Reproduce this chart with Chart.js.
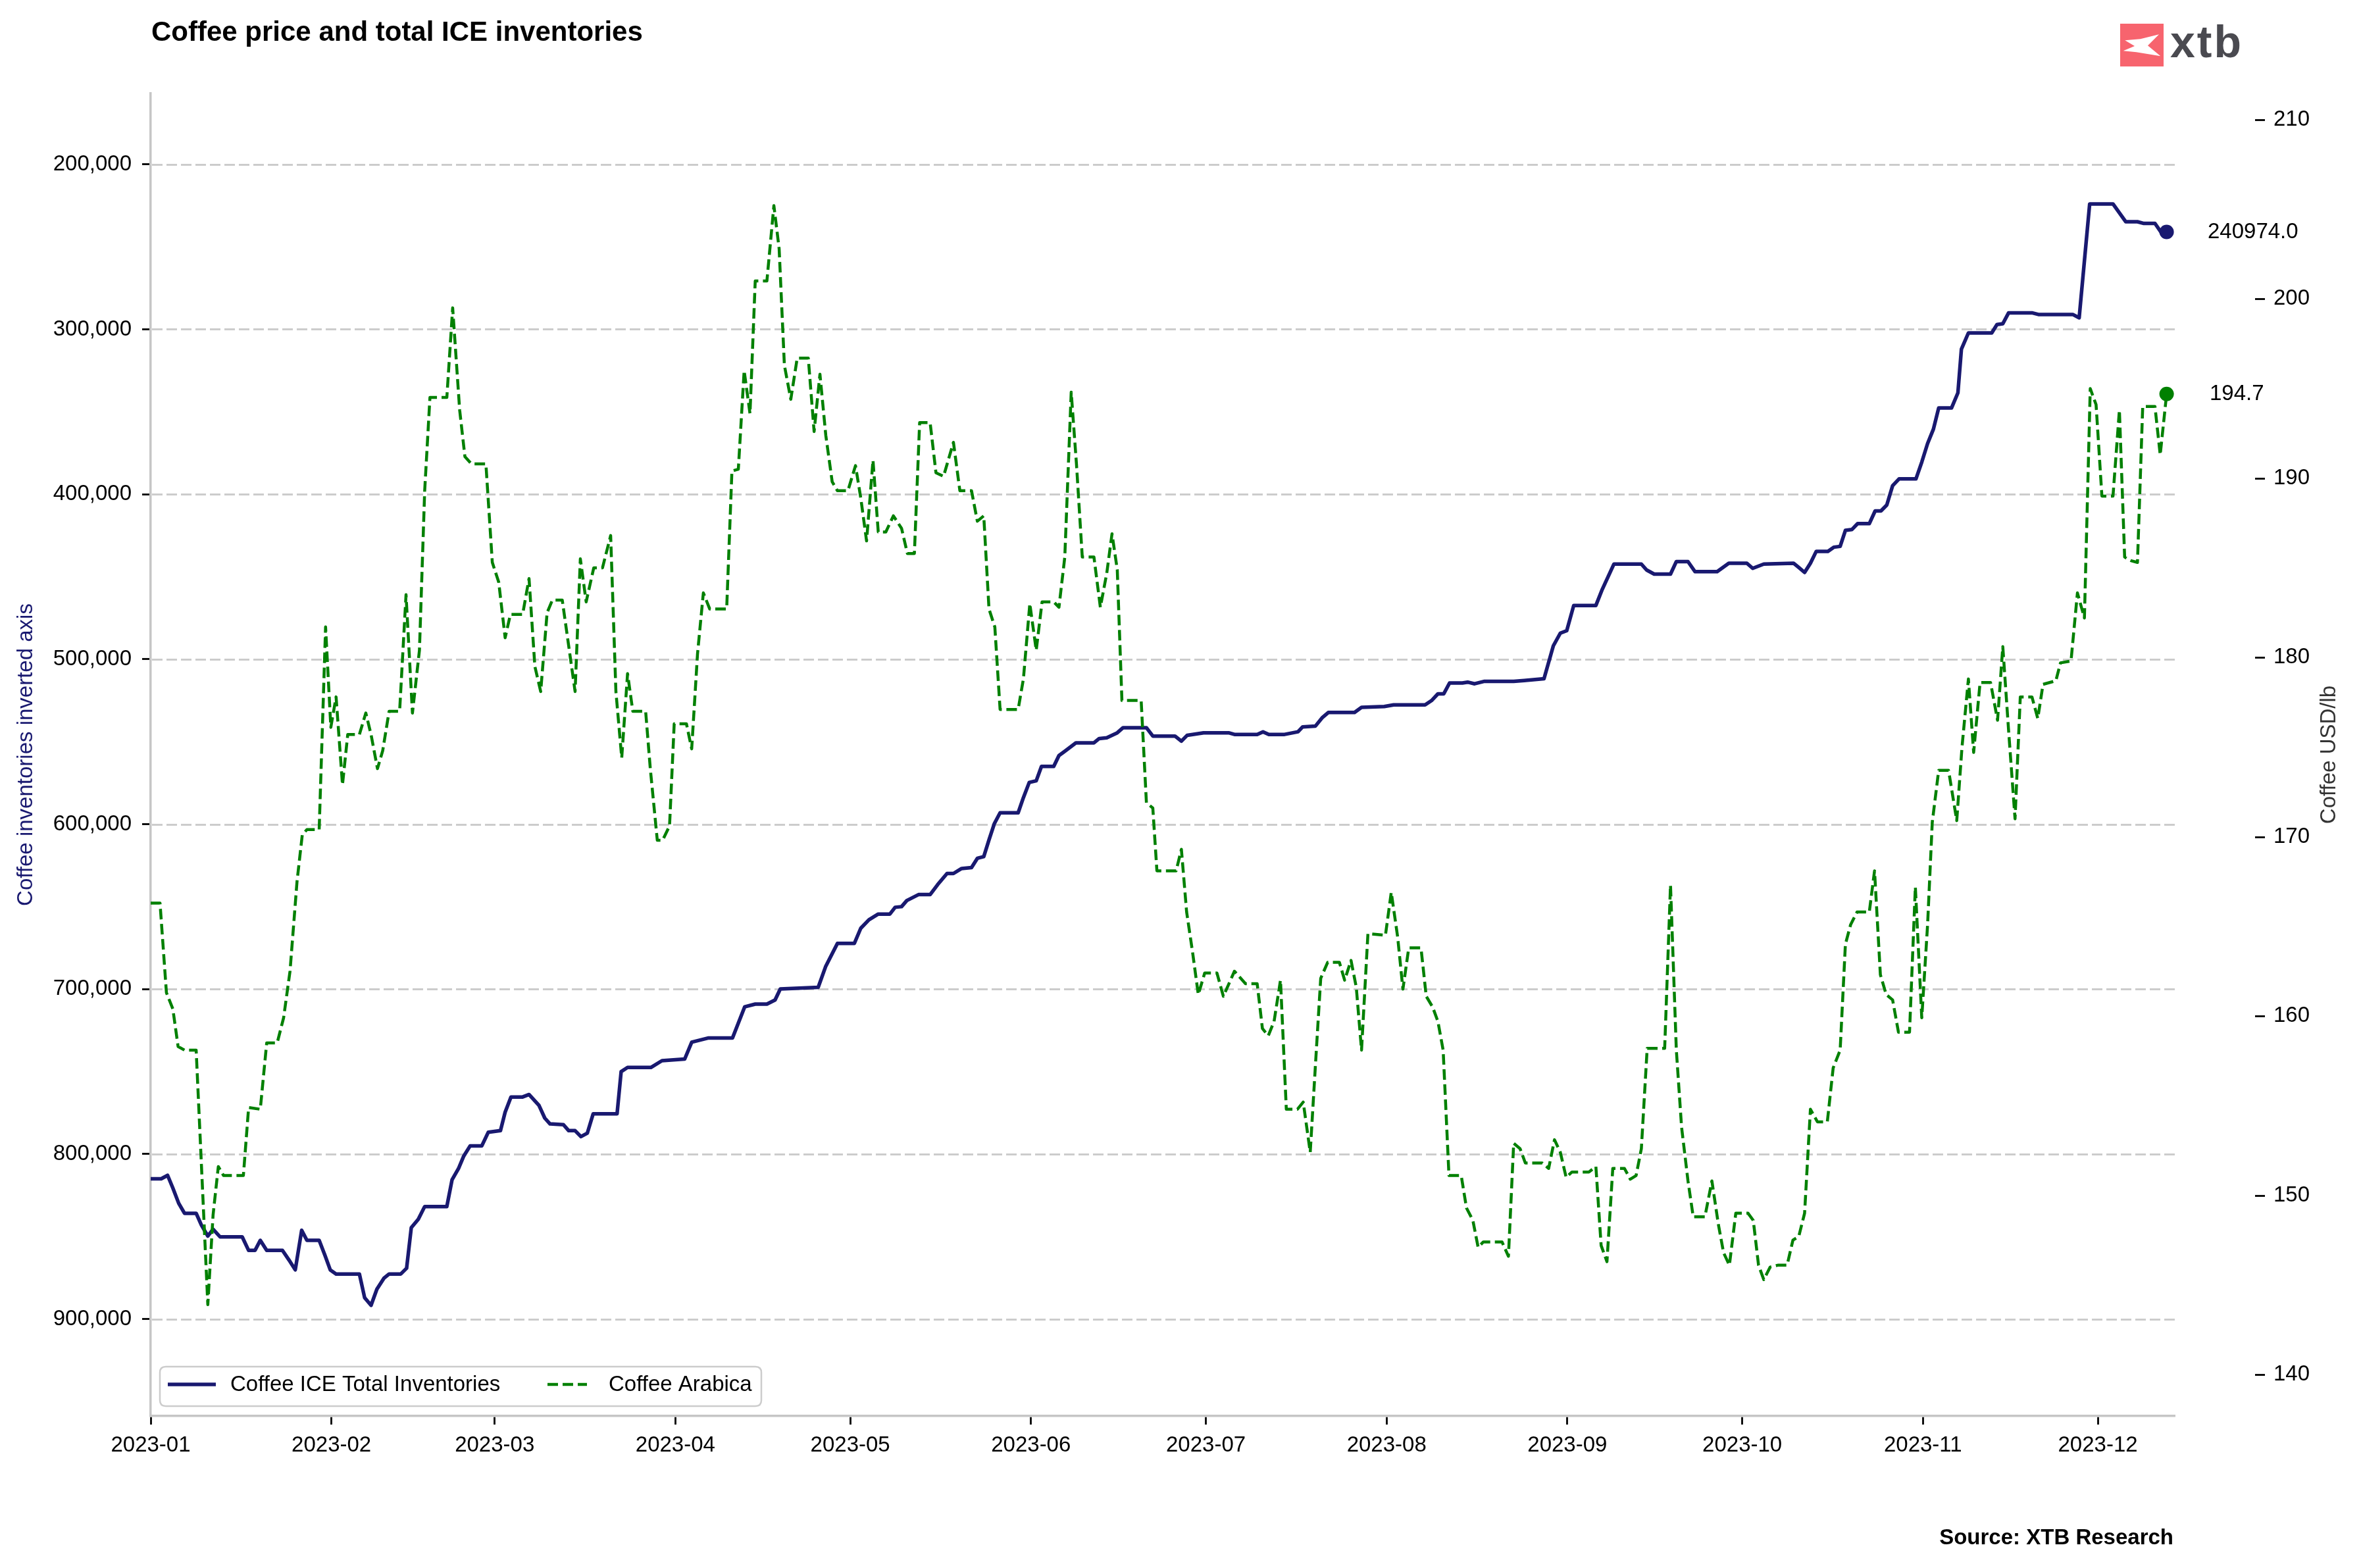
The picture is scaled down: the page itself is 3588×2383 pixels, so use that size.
<!DOCTYPE html>
<html>
<head>
<meta charset="utf-8">
<title>Coffee price and total ICE inventories</title>
<script src="https://cdn.jsdelivr.net/npm/chart.js@4.4.0/dist/chart.umd.min.js"></script>
<style>
html, body { margin: 0; padding: 0; background: #ffffff; }
#wrap { width: 3588px; height: 2383px; position: relative; }
canvas { display: block; }
</style>
</head>
<body>
<div id="wrap"><canvas id="c" width="3588" height="2383"></canvas></div>
<script>
// ---------------- DATA (x = days since 2023-01-01) ----------------
const monthTickDays = [0, 31, 59, 90, 120, 151, 181, 212, 243, 273, 304, 334];
const monthTickLabels = ['2023-01','2023-02','2023-03','2023-04','2023-05','2023-06',
                         '2023-07','2023-08','2023-09','2023-10','2023-11','2023-12'];
const invTicks = [200000, 300000, 400000, 500000, 600000, 700000, 800000, 900000];
const priceTicks = [140, 150, 160, 170, 180, 190, 200, 210];

// Coffee ICE Total Inventories (bags)
const invDays = [
  0,1.8,2.9,3.8,4.8,5.8,7.8,8.7,9.8,10.7,11.9,15.7,16.8,17.9,18.8,19.9,22.6,23.7,24.8,25.9,26.8,28.9,29.9,30.8,
  31.8,35.8,36.7,37.8,38.8,40.0,40.9,42.9,43.9,44.7,45.9,47.0,50.8,51.7,52.8,53.7,54.8,56.8,57.9,
  60.0,60.8,61.8,63.8,64.9,66.6,67.6,68.5,70.8,71.7,72.8,73.8,74.9,75.9,80.0,80.7,81.8,85.8,87.7,
  91.6,92.8,95.7,99.8,101.9,103.7,105.7,107.1,108.0,114.5,115.8,117.8,
  120.7,121.8,123.2,124.8,126.8,127.7,128.8,129.7,131.7,133.7,135.0,136.6,137.7,139.1,140.8,141.8,142.9,143.8,144.7,145.7,148.8,149.7,150.7,
  151.9,152.8,154.9,155.8,156.8,158.7,161.8,162.7,164.0,165.8,166.8,170.8,171.9,175.7,176.8,177.8,180.6,
  184.9,185.9,189.8,190.8,191.8,194.5,196.8,197.6,199.8,201.0,202.0,206.5,207.7,211.6,
  213.2,218.6,219.7,220.8,221.8,222.8,225.0,225.9,227.1,228.8,233.8,235.6,239.0,240.6,241.8,
  242.9,244.1,247.9,249.0,251.0,255.7,256.6,257.9,260.7,261.7,263.7,264.9,268.7,270.7,
  273.8,274.8,276.7,281.8,282.7,283.7,284.7,285.7,287.7,288.7,289.8,290.7,291.8,292.8,294.8,295.8,296.8,297.8,298.8,299.9,302.8,303.8,
  304.8,305.8,306.7,308.9,310.0,310.6,311.8,315.8,316.7,317.7,318.7,322.7,323.8,329.7,330.8,332.6,
  336.6,338.8,340.8,341.9,343.8,344.9,345.8
];
const invVals = [
  815000,815000,812900,820600,829800,835900,835900,843100,849700,845600,850200,850200,858400,858400,852300,858400,858400,864100,870200,846200,852300,852300,861500,870200,
  872700,872700,887100,891700,881900,875300,872700,872700,869200,844600,839500,831800,831800,815500,808800,801200,795000,795000,786800,
  785800,774600,765400,765400,763900,770500,778200,781700,782200,785800,785800,789400,787300,775600,775600,750000,747500,747500,743400,
  742400,732200,729600,729600,710700,709100,709100,706600,699900,698900,686100,672300,
  672300,663100,658000,654500,654500,650400,650000,646300,642700,642700,636600,629900,629900,626900,626300,620700,619700,609500,599800,593100,593100,583900,574700,
  573700,565000,565000,558400,555800,550700,550700,548100,547600,544600,541500,541500,546600,546600,549700,546100,544600,
  544600,545600,545600,544000,545600,545600,544000,541000,540500,535300,532300,532300,529200,528700,
  527700,527700,525100,521000,521000,514400,514400,513900,514900,513400,513400,512900,511800,491900,484200,
  482700,467400,467400,457600,442300,442300,445900,448400,448400,440800,440800,446900,446900,441800,
  441800,444900,442300,441800,444400,447400,441800,434600,434600,432100,431600,421900,421400,417800,417800,410100,410100,406500,394800,390700,390700,380500,
  369200,360500,347700,347700,338500,312000,302200,302200,297100,296600,290000,290000,291000,291000,293000,224000,
  224000,234800,234800,235800,235800,241400,240974
];

// Coffee Arabica (USD/lb)
const priceDays = [
  0,1.6,2.7,3.8,4.7,5.8,7.8,9.8,10.7,11.6,12.5,15.9,16.8,18.8,19.9,21.7,22.8,23.9,25.1,26.0,26.8,28.9,30.0,30.9,
  31.8,32.9,33.8,35.8,36.9,37.8,38.9,39.8,40.9,42.7,43.8,44.9,46.1,47.0,47.9,50.8,51.8,53.0,53.9,55.0,57.5,58.6,
  59.7,60.8,61.7,63.8,64.9,65.9,66.9,68.0,68.9,70.6,72.8,73.7,74.7,76.0,77.5,78.9,79.8,80.8,81.8,82.7,84.9,85.7,86.9,87.8,89.0,89.8,
  91.9,92.8,93.8,94.8,95.9,98.8,99.7,100.8,101.8,102.8,103.7,105.7,106.9,107.8,108.7,109.8,110.9,112.8,113.8,114.8,115.8,116.9,117.8,119.6,
  120.9,121.8,122.8,123.9,124.8,126.1,127.4,128.8,129.8,131.0,131.9,133.7,134.7,136.0,137.7,138.8,140.8,141.8,142.9,143.8,144.8,145.7,148.8,149.7,150.8,
  151.9,152.9,154.9,155.8,156.8,157.9,158.8,159.8,161.8,162.9,164.0,164.9,165.8,166.6,169.9,170.8,171.9,172.6,175.9,176.8,177.7,178.7,179.7,180.8,
  182.9,184.0,185.9,187.8,189.8,190.7,191.7,192.7,193.8,194.8,196.7,197.7,198.9,199.8,200.7,201.9,203.9,204.8,205.9,206.8,207.7,208.8,211.8,
  212.8,213.9,214.8,215.8,217.9,218.8,219.9,220.8,221.7,222.7,224.8,225.7,226.8,227.7,228.6,231.8,232.9,233.8,234.9,235.8,238.7,239.8,240.8,241.8,242.8,
  243.8,246.7,247.9,248.8,249.8,250.8,252.8,253.8,254.8,255.7,256.7,259.7,260.7,261.7,262.6,263.7,264.6,266.6,267.8,268.9,269.8,270.8,271.9,
  274.0,274.9,275.8,276.7,277.8,279.1,280.7,281.7,282.7,283.7,284.7,285.9,287.6,288.6,289.8,290.7,291.6,292.7,294.8,295.7,296.7,297.7,298.8,299.8,301.7,302.7,303.8,
  304.8,305.6,306.7,308.4,309.8,310.7,311.8,312.7,313.8,315.6,316.8,317.7,318.7,319.8,320.7,322.7,323.7,324.6,326.8,327.6,329.4,330.5,331.7,332.7,333.7,
  334.7,336.6,337.7,338.6,339.7,340.8,341.7,343.8,344.7,345.8
];
const priceVals = [
  166.3,166.3,161.3,160.4,158.3,158.1,158.1,143.9,148.9,151.6,151.1,151.1,154.9,154.8,158.5,158.5,159.9,162.5,167.5,170.1,170.4,170.4,181.7,176.1,
  177.8,172.9,175.7,175.7,176.9,175.7,173.8,174.8,177.0,177.0,183.5,176.9,180.4,189.3,194.5,194.5,199.5,193.8,191.2,190.8,190.8,185.3,
  184.2,181.1,182.4,182.4,184.4,179.5,178.1,182.5,183.2,183.2,178.1,185.5,183.1,185.0,185.0,186.8,178.1,174.4,179.1,177.0,177.0,173.8,169.8,169.8,170.6,176.3,
  176.3,174.9,180.2,183.6,182.7,182.7,190.4,190.5,196.0,193.6,201.0,201.0,205.2,202.8,196.3,194.4,196.7,196.7,192.6,195.8,192.4,189.8,189.3,189.3,
  190.7,188.9,186.5,191.0,187.0,187.0,187.9,187.2,185.8,185.8,193.1,193.1,190.3,190.1,192.0,189.3,189.3,187.6,187.9,182.7,181.7,177.1,177.1,178.8,183.0,
  180.4,183.1,183.1,182.8,185.6,194.8,190.8,185.6,185.6,182.8,184.7,186.9,184.9,177.6,177.6,171.9,171.6,168.1,168.1,169.3,165.8,163.6,161.2,162.4,
  162.4,161.1,162.5,161.8,161.8,159.3,158.9,159.7,162.0,154.8,154.8,155.2,152.4,157.3,162.1,163.0,163.0,162.0,163.1,161.6,158.1,164.6,164.5,
  166.9,164.4,161.5,163.8,163.8,161.1,160.5,159.7,158.1,151.1,151.1,149.3,148.6,147.1,147.4,147.4,146.6,152.9,152.6,151.8,151.8,151.5,153.1,152.4,151.0,
  151.3,151.3,151.6,147.2,146.3,151.5,151.5,150.9,151.1,152.6,158.2,158.2,167.3,158.1,153.8,150.8,148.8,148.8,150.8,148.4,146.8,146.1,149.0,
  149.0,148.6,146.1,145.3,146.0,146.1,146.1,147.5,147.7,149.0,154.8,154.1,154.1,157.1,158.1,164.0,165.1,165.8,165.8,168.1,162.3,161.2,160.9,159.1,159.1,167.2,159.9,
  165.1,170.8,173.7,173.7,170.9,175.0,178.8,174.7,178.6,178.6,176.5,180.6,175.9,171.0,177.8,177.8,176.6,178.5,178.7,179.7,179.8,183.6,182.2,195.0,194.1,
  189.0,189.0,193.8,185.6,185.4,185.3,194.0,194.0,191.3,194.7
];

// ---------------- STYLE ----------------
const FONT = '"Liberation Sans", Arial, Helvetica, sans-serif';
const NAVY = '#191970';
const GREEN = '#008000';
Chart.defaults.font.family = FONT;
Chart.defaults.color = '#000000';

const invData = invDays.map((d, i) => ({ x: d, y: invVals[i] }));
const priceData = priceDays.map((d, i) => ({ x: d, y: priceVals[i] }));

// dashed horizontal grid lines at the left-axis ticks
const gridPlugin = {
  id: 'dashGrid',
  beforeDatasetsDraw(chart) {
    const ctx = chart.ctx;
    const a = chart.chartArea;
    const sy = chart.scales.y;
    ctx.save();
    ctx.strokeStyle = '#cccccc';
    ctx.lineWidth = 3;
    ctx.setLineDash([16, 6]);
    invTicks.forEach(v => {
      const py = Math.round(sy.getPixelForValue(v)) + 0.5;
      ctx.beginPath();
      ctx.moveTo(a.left + 2, py);
      ctx.lineTo(a.right, py);
      ctx.stroke();
    });
    ctx.restore();
  }
};

const decor = {
  id: 'decor',
  afterDraw(chart) {
    const ctx = chart.ctx;
    const a = chart.chartArea;
    const sy = chart.scales.y, sy2 = chart.scales.y2;
    ctx.save();

    // right axis tick marks (axis offset outward)
    ctx.strokeStyle = '#000';
    ctx.lineWidth = 2.8;
    ctx.setLineDash([]);
    priceTicks.forEach(v => {
      const py = Math.round(sy2.getPixelForValue(v)) + 0.5;
      ctx.beginPath();
      ctx.moveTo(a.right + 122, py);
      ctx.lineTo(a.right + 137, py);
      ctx.stroke();
    });

    // right axis title
    ctx.save();
    ctx.fillStyle = '#333333';
    ctx.font = '33px ' + FONT;
    ctx.translate(3540, (a.top + a.bottom) / 2);
    ctx.rotate(-Math.PI / 2);
    ctx.textAlign = 'center';
    ctx.textBaseline = 'middle';
    ctx.fillText('Coffee USD/lb', 0, 0);
    ctx.restore();

    // title
    ctx.fillStyle = '#000';
    ctx.font = 'bold 42px ' + FONT;
    ctx.textAlign = 'left';
    ctx.textBaseline = 'alphabetic';
    ctx.fillText('Coffee price and total ICE inventories', 230, 62);

    // source
    ctx.font = 'bold 33px ' + FONT;
    ctx.textAlign = 'right';
    ctx.fillText('Source: XTB Research', 3303, 2347);

    // end labels
    const lastInv = invVals[invVals.length - 1];
    const lastPrice = priceVals[priceVals.length - 1];
    ctx.font = '33px ' + FONT;
    ctx.textAlign = 'left';
    ctx.textBaseline = 'middle';
    ctx.fillStyle = '#000';
    ctx.fillText(lastInv.toFixed(1), a.right + 50, sy.getPixelForValue(lastInv));
    ctx.fillText(lastPrice.toFixed(1), a.right + 53, sy2.getPixelForValue(lastPrice));

    // logo
    ctx.fillStyle = '#F7646E';
    ctx.fillRect(3222, 36, 66, 65);
    ctx.fillStyle = '#ffffff';
    ctx.beginPath();
    ctx.moveTo(3229.3, 61.3);
    ctx.lineTo(3252.7, 59.3);
    ctx.lineTo(3281.0, 52.3);
    ctx.lineTo(3264.0, 69.3);
    ctx.lineTo(3283.3, 85.3);
    ctx.lineTo(3246.7, 79.3);
    ctx.lineTo(3226.7, 77.3);
    ctx.lineTo(3244.0, 70.0);
    ctx.closePath();
    ctx.fill();
    ctx.fillStyle = '#4a4a50';
    ctx.font = 'bold 68px ' + FONT;
    ctx.textAlign = 'left';
    ctx.textBaseline = 'alphabetic';
    try { ctx.letterSpacing = '3px'; } catch (e) {}
    ctx.fillText('xtb', 3298, 87);
    try { ctx.letterSpacing = '0px'; } catch (e) {}

    // legend
    const lx = 243, ly = 2077, lw = 914, lh = 60, r = 9;
    ctx.beginPath();
    ctx.moveTo(lx + r, ly);
    ctx.lineTo(lx + lw - r, ly);
    ctx.quadraticCurveTo(lx + lw, ly, lx + lw, ly + r);
    ctx.lineTo(lx + lw, ly + lh - r);
    ctx.quadraticCurveTo(lx + lw, ly + lh, lx + lw - r, ly + lh);
    ctx.lineTo(lx + r, ly + lh);
    ctx.quadraticCurveTo(lx, ly + lh, lx, ly + lh - r);
    ctx.lineTo(lx, ly + r);
    ctx.quadraticCurveTo(lx, ly, lx + r, ly);
    ctx.closePath();
    ctx.fillStyle = 'rgba(255,255,255,0.8)';
    ctx.fill();
    ctx.strokeStyle = '#cccccc';
    ctx.lineWidth = 2.5;
    ctx.stroke();

    const midY = ly + 27;
    ctx.strokeStyle = NAVY;
    ctx.lineWidth = 5.5;
    ctx.beginPath(); ctx.moveTo(255, midY); ctx.lineTo(328, midY); ctx.stroke();
    ctx.strokeStyle = GREEN;
    ctx.lineWidth = 4.5;
    ctx.setLineDash([16, 7]);
    ctx.beginPath(); ctx.moveTo(832, midY); ctx.lineTo(892, midY); ctx.stroke();
    ctx.setLineDash([]);
    ctx.fillStyle = '#000';
    ctx.font = '33px ' + FONT;
    ctx.textAlign = 'left';
    ctx.textBaseline = 'middle';
    ctx.fillText('Coffee ICE Total Inventories', 350, midY + 1);
    ctx.fillText('Coffee Arabica', 925, midY + 1);

    ctx.restore();
  }
};

const lastIdx = (n) => (c) => (c.dataIndex === n - 1 ? 11 : 0);

new Chart(document.getElementById('c'), {
  type: 'line',
  data: {
    datasets: [
      {
        label: 'Coffee Arabica',
        data: priceData,
        yAxisID: 'y2',
        borderColor: GREEN,
        backgroundColor: GREEN,
        borderWidth: 4.5,
        borderDash: [16, 7],
        borderJoinStyle: 'round',
        borderCapStyle: 'butt',
        pointRadius: lastIdx(priceData.length),
        pointHoverRadius: 0,
        pointBorderWidth: 0,
        pointBackgroundColor: GREEN,
        tension: 0,
        fill: false,
        order: 1
      },
      {
        label: 'Coffee ICE Total Inventories',
        data: invData,
        yAxisID: 'y',
        borderColor: NAVY,
        backgroundColor: NAVY,
        borderWidth: 5.5,
        borderJoinStyle: 'round',
        borderCapStyle: 'butt',
        pointRadius: lastIdx(invData.length),
        pointHoverRadius: 0,
        pointBorderWidth: 0,
        pointBackgroundColor: NAVY,
        tension: 0,
        fill: false,
        order: 2
      }
    ]
  },
  options: {
    responsive: false,
    animation: false,
    devicePixelRatio: 1,
    layout: { padding: { top: 142, left: 0, right: 0, bottom: 151 } },
    plugins: {
      legend: { display: false },
      title: { display: false },
      tooltip: { enabled: false }
    },
    events: [],
    scales: {
      x: {
        type: 'linear',
        position: 'bottom',
        min: 0,
        max: 347.2,
        afterBuildTicks: (s) => { s.ticks = monthTickDays.map(v => ({ value: v })); },
        afterFit: (s) => { s.height = 80; },
        ticks: {
          autoSkip: false,
          maxRotation: 0,
          minRotation: 0,
          padding: 12,
          color: '#000',
          font: { size: 33 },
          callback: (v) => monthTickLabels[monthTickDays.indexOf(v)]
        },
        grid: {
          drawOnChartArea: false,
          drawTicks: true,
          tickLength: 13,
          tickColor: '#000',
          tickWidth: 2.8
        },
        border: { display: true, color: '#c6c6c6', width: 3.5 }
      },
      y: {
        type: 'linear',
        position: 'left',
        reverse: true,
        min: 157000,
        max: 958800,
        afterBuildTicks: (s) => { s.ticks = invTicks.map(v => ({ value: v })); },
        afterFit: (s) => { s.width = 229; s.paddingTop = 0; s.paddingBottom = 0; },
        ticks: {
          padding: 16,
          color: '#000',
          font: { size: 33 },
          callback: (v) => Number(v).toLocaleString('en-US')
        },
        grid: {
          drawOnChartArea: false,
          drawTicks: true,
          tickLength: 13,
          tickColor: '#000',
          tickWidth: 2.8
        },
        border: { display: true, color: '#c6c6c6', width: 3.5 },
        title: {
          display: true,
          text: 'Coffee inventories inverted axis',
          color: NAVY,
          font: { size: 33 },
          padding: { top: 20, bottom: 0 }
        }
      },
      y2: {
        type: 'linear',
        position: 'right',
        min: 137.69,
        max: 211.46,
        afterBuildTicks: (s) => { s.ticks = priceTicks.map(v => ({ value: v })); },
        afterFit: (s) => { s.width = 283; s.paddingTop = 0; s.paddingBottom = 0; },
        ticks: {
          padding: 13,
          color: '#000',
          font: { size: 33 }
        },
        grid: {
          drawOnChartArea: false,
          drawTicks: true,
          tickLength: 137,
          tickColor: 'rgba(0,0,0,0)',
          tickWidth: 1
        },
        border: { display: false }
      }
    }
  },
  plugins: [gridPlugin, decor]
});
</script>
</body>
</html>
